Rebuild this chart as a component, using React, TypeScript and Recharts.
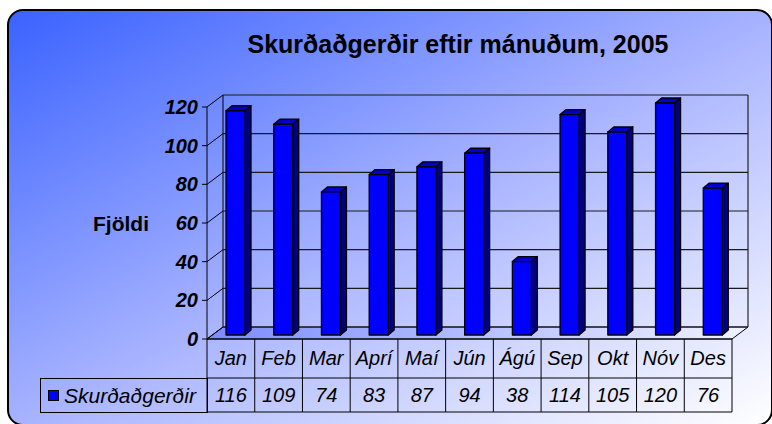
import React from 'react';
import { BarChart, Bar, XAxis, YAxis, CartesianGrid } from 'recharts';

// data
const months = ['Jan', 'Feb', 'Mar', 'Aprí', 'Maí', 'Jún', 'Ágú', 'Sep', 'Okt', 'Nóv', 'Des'];
const operations = [116, 109, 74, 83, 87, 94, 38, 114, 105, 120, 76];
const yTicks = [0, 20, 40, 60, 80, 100, 120];
const seriesName = 'Skurðaðgerðir';
const chartTitle = 'Skurðaðgerðir eftir mánuðum, 2005';
const yLabel = 'Fjöldi';

const data = months.map((month, i) => ({ month, value: operations[i] }));

const FONT = '"Liberation Sans", Arial, sans-serif';
// 3d wall depth
const DX = 16;
const DY = 12;
const PLOT = { left: 207, right: 732, top: 107, bottom: 339 };

const Bar3D = (props: any) => {
  const { x, y, width, height } = props;
  if (!height || height <= 0) return null;
  const fx = x + 5;
  const fy = y - 4;
  const bottom = fy + height;
  const dx = 6;
  const dy = 5;
  return (
    <g stroke="#000" strokeWidth={1.3} strokeLinejoin="round">
      <polygon
        points={`${fx},${fy} ${fx + dx},${fy - dy} ${fx + width + dx},${fy - dy} ${fx + width},${fy}`}
        fill="#0000c8"
      />
      <polygon
        points={`${fx + width},${fy} ${fx + width + dx},${fy - dy} ${fx + width + dx},${bottom - dy} ${fx + width},${bottom}`}
        fill="#000080"
      />
      <rect x={fx} y={fy} width={width} height={height} fill="#0000ff" />
    </g>
  );
};

const YTick = (props: any) => {
  const { x, y, payload } = props;
  return (
    <g>
      <line x1={x - 5} y1={y} x2={x} y2={y} stroke="#000" />
      <line x1={x} y1={y} x2={x + DX} y2={y - DY} stroke="#000" />
      <text
        x={x - 9}
        y={y + 7}
        textAnchor="end"
        fontFamily={FONT}
        fontStyle="italic"
        fontWeight="bold"
        fontSize={20}
        fill="#000"
      >
        {payload.value}
      </text>
    </g>
  );
};

// x axis ticks draw the data table cells
const TableTick = (props: any) => {
  const { x, y, payload, index } = props;
  const bw = (props.width || 525) / months.length;
  const left = x - bw / 2;
  const right = x + bw / 2;
  const isLast = index === months.length - 1;
  return (
    <g fontFamily={FONT} fontStyle="italic" fontSize={20} fill="#000">
      <line x1={left} y1={y} x2={left} y2={y + 73} stroke="#000" />
      {isLast && <line x1={right} y1={y} x2={right} y2={y + 73} stroke="#000" />}
      <line x1={left} y1={y + 39} x2={right} y2={y + 39} stroke="#000" />
      <line x1={left} y1={y + 73} x2={right} y2={y + 73} stroke="#000" />
      <text x={x} y={y + 26} textAnchor="middle">{payload.value}</text>
      <text x={x} y={y + 63} textAnchor="middle">{operations[index]}</text>
    </g>
  );
};

const BackGridLine = (props: any) => {
  const { x1, y1, x2, y2 } = props;
  return <line x1={x1 + DX} y1={y1 - DY} x2={x2 + DX} y2={y2 - DY} stroke="#1a1a1a" strokeWidth={1.2} />;
};

export default function App() {
  return (
    <div style={{ position: 'relative', width: 772, height: 424, overflow: 'hidden', fontFamily: FONT }}>
      <style>{'body{margin:0;overflow:hidden}'}</style>
      <div
        style={{
          position: 'absolute',
          left: 7,
          top: 9,
          width: 766,
          height: 417,
          boxSizing: 'border-box',
          border: '2px solid #000',
          borderRadius: 16,
          background: 'linear-gradient(to bottom right, #3a62ff 0%, #a6b2ff 50%, #ffffff 100%)',
        }}
      />
      <svg width={772} height={424} style={{ position: 'absolute', left: 0, top: 0 }}>
        <defs>
          <linearGradient id="floor" x1="0" y1="0" x2="1" y2="0">
            <stop offset="0%" stopColor="#7b8bff" />
            <stop offset="100%" stopColor="#f0f2ff" />
          </linearGradient>
        </defs>
        <polygon
          points={`${PLOT.left},${PLOT.bottom} ${PLOT.right},${PLOT.bottom} ${PLOT.right + DX},${PLOT.bottom - DY} ${PLOT.left + DX},${PLOT.bottom - DY}`}
          fill="url(#floor)"
          stroke="#000"
        />
        <line x1={PLOT.left + DX} y1={PLOT.top - DY} x2={PLOT.left + DX} y2={PLOT.bottom - DY} stroke="#000" />
        <line x1={PLOT.right + DX} y1={PLOT.top - DY} x2={PLOT.right + DX} y2={PLOT.bottom - DY} stroke="#000" />
      </svg>
      <div
        style={{
          position: 'absolute',
          left: 158,
          top: 29,
          width: 600,
          textAlign: 'center',
          fontWeight: 'bold',
          fontSize: 25,
          lineHeight: '30px',
          color: '#000',
        }}
      >
        {chartTitle}
      </div>
      <BarChart
        width={772}
        height={424}
        data={data}
        margin={{ top: PLOT.top, right: 772 - PLOT.right, bottom: 12, left: PLOT.left - 60 }}
        style={{ position: 'absolute', left: 0, top: 0 }}
      >
        <CartesianGrid vertical={false} horizontal={(p: any) => <BackGridLine {...p} />} />
        <XAxis
          dataKey="month"
          height={73}
          tickLine={false}
          tickSize={0}
          tickMargin={0}
          interval={0}
          axisLine={{ stroke: '#000' }}
          tick={(p: any) => <TableTick {...p} />}
        />
        <YAxis
          width={60}
          domain={[0, 120]}
          ticks={yTicks}
          interval={0}
          tickLine={false}
          tickSize={0}
          tickMargin={0}
          axisLine={{ stroke: '#000' }}
          tick={(p: any) => <YTick {...p} />}
          label={{
            content: (p: any) => (
              <text
                x={p.viewBox.x - 54}
                y={p.viewBox.y + p.viewBox.height / 2 + 8}
                fontFamily={FONT}
                fontWeight="bold"
                fontSize={21}
                fill="#000"
              >
                {yLabel}
              </text>
            ),
          }}
        />
        <Bar dataKey="value" name={seriesName} barSize={19} shape={(p: any) => <Bar3D {...p} />} isAnimationActive={false} />
      </BarChart>
      <div
        style={{
          position: 'absolute',
          left: 40,
          top: 378,
          width: 168,
          height: 35,
          boxSizing: 'border-box',
          border: '1px solid #000',
          display: 'flex',
          alignItems: 'center',
          fontStyle: 'italic',
          fontSize: 21,
          color: '#000',
        }}
      >
        <span
          style={{
            display: 'inline-block',
            width: 9,
            height: 9,
            marginLeft: 7,
            marginRight: 5,
            border: '1px solid #000',
            background: '#0000ff',
          }}
        />
        {seriesName}
      </div>
    </div>
  );
}
